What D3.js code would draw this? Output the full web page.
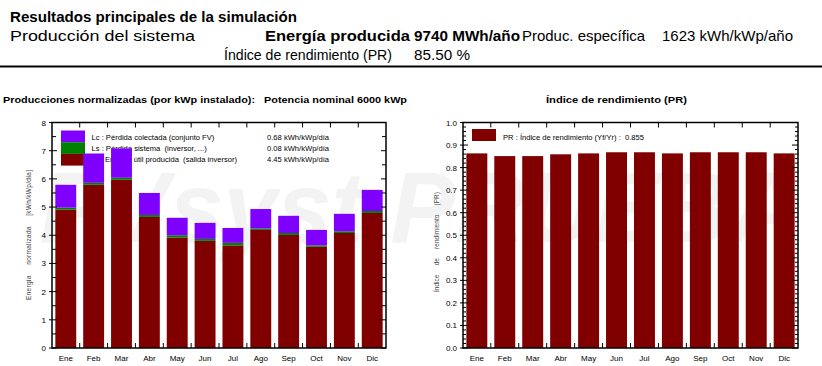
<!DOCTYPE html>
<html><head><meta charset="utf-8">
<script src="https://cdn.jsdelivr.net/npm/d3@7"></script>
<style>
html,body{margin:0;padding:0;background:#fff;}
svg{display:block;}
</style></head>
<body>
<svg id="c" width="822" height="366"></svg>
<script>
// ---- data ----
const months = ["Ene","Feb","Mar","Abr","May","Jun","Jul","Ago","Sep","Oct","Nov","Dic"];
const yfValues = [4.91,5.79,5.97,4.65,3.92,3.80,3.64,4.19,4.01,3.59,4.08,4.79];
const lsValues = [0.07,0.07,0.07,0.07,0.08,0.07,0.09,0.05,0.07,0.05,0.06,0.07];
const lcValues = [0.81,1.04,1.04,0.78,0.62,0.57,0.53,0.69,0.61,0.55,0.62,0.75];
const prValues = [0.863,0.851,0.851,0.859,0.863,0.868,0.868,0.863,0.868,0.868,0.868,0.863];
const seriesNames = ["Lc : Pérdida colectada (conjunto FV)","Ls : Pérdida sistema  (inversor, ...)","Yf : Energía útil producida  (salida inversor)"];
const seriesTotals = ["0.68 kWh/kWp/día","0.08 kWh/kWp/día","4.45 kWh/kWp/día"];
const leftTicks = [0,1,2,3,4,5,6,7,8];
const rightTicks = [0,0.1,0.2,0.3,0.4,0.5,0.6,0.7,0.8,0.9,1.0];

const C_LC = "#8000ff", C_LS = "#008000", C_YF = "#800000";
const SANS = "'Liberation Sans', Arial, sans-serif";
const NARROW = "'Liberation Sans Narrow', 'Arial Narrow', 'Liberation Sans', Arial, sans-serif";

const svg = d3.select("#c");

// ---- header ----
function txt(x, y, s, opt) {
  const t = svg.append("text").attr("x", x).attr("y", y).text(s)
    .attr("font-family", opt.family || NARROW).attr("font-size", opt.size || 14)
    .attr("font-weight", opt.bold ? "bold" : "normal").attr("fill", opt.fill || "#000");
  if (opt.len) t.attr("textLength", opt.len).attr("lengthAdjust", "spacingAndGlyphs");
  if (opt.anchor) t.attr("text-anchor", opt.anchor);
  return t;
}
txt(10, 22, "Resultados principales de la simulación", {bold: true, size: 15, len: 287});
txt(10, 41, "Producción del sistema", {size: 15, len: 185});
txt(265, 41, "Energía producida", {bold: true, size: 15, len: 145});
txt(414, 41, "9740 MWh/año", {bold: true, size: 15, len: 106});
txt(522, 41, "Produc. específica", {size: 15, len: 123});
txt(662, 41, "1623 kWh/kWp/año", {size: 15, len: 131});
txt(224, 60, "Índice de rendimiento (PR)", {size: 15, len: 168});
txt(414, 60, "85.50 %", {size: 15, len: 56});
svg.append("line").attr("x1", 0).attr("x2", 822).attr("y1", 66.5).attr("y2", 66.5)
  .attr("stroke", "#000").attr("stroke-width", 2);

// ---- watermark ----
svg.append("text").attr("x", 40).attr("y", 242).text("PVsyst PRUEBA")
  .attr("font-family", SANS).attr("font-weight", "bold").attr("font-style", "italic")
  .attr("font-size", 100).attr("fill", "#f3f3f3").attr("textLength", 760)
  .attr("lengthAdjust", "spacingAndGlyphs");

// ---- chart titles ----
txt(3, 103, "Producciones normalizadas (por kWp instalado):   Potencia nominal 6000 kWp",
  {family: SANS, bold: true, size: 8.5, len: 404}).style("white-space", "pre");
txt(546, 103, "Índice de rendimiento (PR)", {family: SANS, bold: true, size: 8.5, len: 141});

const yTop = 122.5, yBot = 348;

// ---- left chart ----
const L = {x0: 52, x1: 386};
const xL = d3.scaleBand().domain(months).range([L.x0, L.x1]).paddingInner(0.25).paddingOuter(0.12);
const yL = d3.scaleLinear().domain([0, 8]).range([yBot, yTop]);
const gL = svg.append("g");

// legend (drawn beneath the bars)
const legColors = [C_LC, C_LS, C_YF];
legColors.forEach((c, i) => {
  gL.append("rect").attr("x", 61).attr("y", 130.5 + i * 11.7).attr("width", 24).attr("height", 11.7).attr("fill", c);
  gL.append("text").attr("x", 91.5).attr("y", 140 + i * 11).text(seriesNames[i])
    .attr("font-family", SANS).attr("font-size", 7.6).style("white-space", "pre");
  gL.append("text").attr("x", 267).attr("y", 140 + i * 11).text(seriesTotals[i])
    .attr("font-family", SANS).attr("font-size", 7.6);
});

const stackData = months.map((m, i) => ({m, yf: yfValues[i], ls: lsValues[i], lc: lcValues[i]}));
const stack = d3.stack().keys(["yf", "ls", "lc"])(stackData);
const stackColors = {yf: C_YF, ls: C_LS, lc: C_LC};
stack.forEach(layer => {
  gL.selectAll(null).data(layer).enter().append("rect")
    .attr("x", d => xL(d.data.m)).attr("width", xL.bandwidth())
    .attr("y", d => yL(d[1])).attr("height", d => yL(d[0]) - yL(d[1]))
    .attr("fill", stackColors[layer.key]);
});

// frame & ticks
function frame(g, x0, x1) {
  g.append("rect").attr("x", x0).attr("y", yTop).attr("width", x1 - x0).attr("height", yBot - yTop)
    .attr("fill", "none").attr("stroke", "#000").attr("stroke-width", 1.5);
}
function catTicks(g, xs) {
  const step = xs.step();
  const bounds = months.slice(1).map(m => xs(m) - step * xs.paddingInner() / 2);
  bounds.forEach(b => {
    g.append("line").attr("x1", b).attr("x2", b).attr("y1", yBot).attr("y2", yBot - 5).attr("stroke", "#000").attr("stroke-width", 1);
    g.append("line").attr("x1", b).attr("x2", b).attr("y1", yTop).attr("y2", yTop + 5).attr("stroke", "#000").attr("stroke-width", 1);
  });
  g.selectAll(null).data(months).enter().append("text")
    .attr("x", d => xs(d) + xs.bandwidth() / 2).attr("y", 361).attr("text-anchor", "middle")
    .attr("font-family", SANS).attr("font-size", 8).text(d => d);
}
frame(gL, L.x0, L.x1);
catTicks(gL, xL);
d3.range(0, 8.01, 0.5).forEach(v => {
  const major = Math.abs(v - Math.round(v)) < 1e-6;
  const y = yL(v);
  gL.append("line").attr("x1", L.x0 - (major ? 3 : 0)).attr("x2", L.x0 + (major ? 5 : 4)).attr("y1", y).attr("y2", y).attr("stroke", "#000");
  gL.append("line").attr("x1", L.x1).attr("x2", L.x1 - (major ? 5 : 4)).attr("y1", y).attr("y2", y).attr("stroke", "#000");
});
gL.selectAll(null).data(leftTicks).enter().append("text")
  .attr("x", 46).attr("y", d => yL(d) + 3).attr("text-anchor", "end")
  .attr("font-family", SANS).attr("font-size", 8).text(d => d);
gL.append("text").attr("transform", "translate(31,235) rotate(-90)").attr("text-anchor", "middle")
  .attr("font-family", SANS).attr("font-size", 6.5).attr("fill", "#444").style("white-space", "pre")
  .attr("textLength", 130).attr("lengthAdjust", "spacing")
  .text("Energía     normalizada     [kWh/kWp/día]");

// ---- right chart ----
const R = {x0: 463, x1: 798};
const xR = d3.scaleBand().domain(months).range([R.x0, R.x1]).paddingInner(0.25).paddingOuter(0.12);
const yR = d3.scaleLinear().domain([0, 1]).range([yBot, yTop]);
const gR = svg.append("g");
gR.append("rect").attr("x", 472).attr("y", 129).attr("width", 24).attr("height", 12).attr("fill", C_YF);
gR.append("text").attr("x", 503).attr("y", 140).text("PR : Índice de rendimiento (Yf/Yr) :  0.855")
  .attr("font-family", SANS).attr("font-size", 7.6).style("white-space", "pre");
gR.selectAll(null).data(months).enter().append("rect")
  .attr("x", d => xR(d)).attr("width", xR.bandwidth())
  .attr("y", (d, i) => yR(prValues[i])).attr("height", (d, i) => yBot - yR(prValues[i]))
  .attr("fill", C_YF);
frame(gR, R.x0, R.x1);
catTicks(gR, xR);
d3.range(0, 50.5, 1).forEach(k => {
  const v = k / 50;
  const major = k % 5 === 0;
  const y = yR(v);
  gR.append("line").attr("x1", R.x0 - (major ? 3 : 0)).attr("x2", R.x0 + (major ? 5 : 3)).attr("y1", y).attr("y2", y).attr("stroke", "#000");
  gR.append("line").attr("x1", R.x1).attr("x2", R.x1 - (major ? 6 : 3)).attr("y1", y).attr("y2", y).attr("stroke", "#000");
});
gR.selectAll(null).data(rightTicks).enter().append("text")
  .attr("x", 457).attr("y", d => yR(d) + 3).attr("text-anchor", "end")
  .attr("font-family", SANS).attr("font-size", 8).text(d => d3.format(".1f")(d));
gR.append("text").attr("transform", "translate(439,242) rotate(-90)").attr("text-anchor", "middle")
  .attr("font-family", SANS).attr("font-size", 6.5).attr("fill", "#444").style("white-space", "pre")
  .attr("textLength", 100).attr("lengthAdjust", "spacing")
  .text("Índice     de     rendimiento     (PR)");
</script>
</body></html>
